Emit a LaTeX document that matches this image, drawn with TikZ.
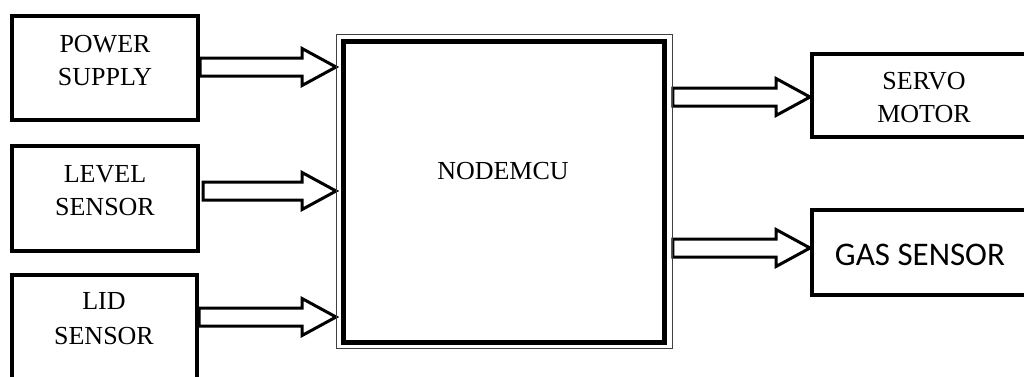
\documentclass[tikz,border=0pt]{standalone}
\usepackage{fontspec}
\setmainfont{Liberation Serif}
\newfontfamily\gasfont{Carlito}
\usetikzlibrary{calc,backgrounds}
\newcommand\blockarr[2]{%
  \draw[blockarrow] ($(#1)+(0,-9)$) -- ($(#2)+(-34,-9)$) -- ($(#2)+(-34,-18.5)$) -- (#2)
    -- ($(#2)+(-34,18.5)$) -- ($(#2)+(-34,9)$) -- ($(#1)+(0,9)$) -- cycle;}
\tikzset{
  box/.style={draw, line width=4pt, rectangle, inner sep=0pt},
  lbl/.style={align=center, font=\fontsize{26}{33}\selectfont, inner sep=0pt},
  blockarrow/.style={draw, fill=white, line width=3pt, line join=miter},
}
\begin{document}
\begin{tikzpicture}[x=1pt,y=-1pt]
\useasboundingbox (0,0) rectangle (1024,376);
\clip (0,0) rectangle (1024,376);
% boxes
\node[box, minimum width=186pt, minimum height=104pt] (ps) at (105,68) {};
\node[box, minimum width=186pt, minimum height=105pt] (lv) at (105,198.5) {};
\node[box, minimum width=185pt, minimum height=145pt] (ld) at (104.5,347.5) {};
\node[box, minimum width=238pt, minimum height=83pt] (sv) at (931,95.5) {};
\node[box, minimum width=238pt, minimum height=85pt] (gs) at (931,252.5) {};
\node[draw, line width=5pt, minimum width=321pt, minimum height=301pt, inner sep=0pt] (mcu) at (504,192) {};
\node[draw=black!75, line width=1.4pt, minimum width=335.5pt, minimum height=313.5pt, inner sep=0pt] (mcuframe) at (504.5,191.5) {};
% labels
\node[lbl] (pst) at (105,61) {POWER\\SUPPLY};
\node[lbl] (lvt) at (105,190.5) {LEVEL\\SENSOR};
\node[lbl, font=\fontsize{26}{35}\selectfont] (ldt) at (104,319) {LID\\SENSOR};
\node[lbl] (svt) at (924,98) {SERVO\\MOTOR};
\node[lbl] (mcut) at (503,171) {NODEMCU};
\node[inner sep=0pt, font=\gasfont\fontsize{33}{40}\selectfont] (gst) at (920,255) {GAS SENSOR};
% arrow rows
\coordinate (r1) at (0,67);
\coordinate (r2) at (0,191);
\coordinate (r3) at (0,317);
\coordinate (r4) at (0,97);
\coordinate (r5) at (0,248);
\coordinate (s1) at (ps.east |- r1);
\coordinate (e1) at (mcuframe.west |- r1);
\coordinate (s2) at ($(lv.east |- r2)+(3,0)$);
\coordinate (e2) at (mcuframe.west |- r2);
\coordinate (s3) at (ld.east |- r3);
\coordinate (e3) at (mcuframe.west |- r3);
\coordinate (s4) at (mcuframe.east |- r4);
\coordinate (e4) at (sv.west |- r4);
\coordinate (s5) at (mcuframe.east |- r5);
\coordinate (e5) at (gs.west |- r5);
\begin{pgfonlayer}{background}
\fill[white] (0,0) rectangle (1024,376);
\blockarr{s1}{e1}
\blockarr{s2}{e2}
\blockarr{s3}{e3}
\blockarr{s4}{e4}
\blockarr{s5}{e5}
\end{pgfonlayer}
\end{tikzpicture}
\end{document}
